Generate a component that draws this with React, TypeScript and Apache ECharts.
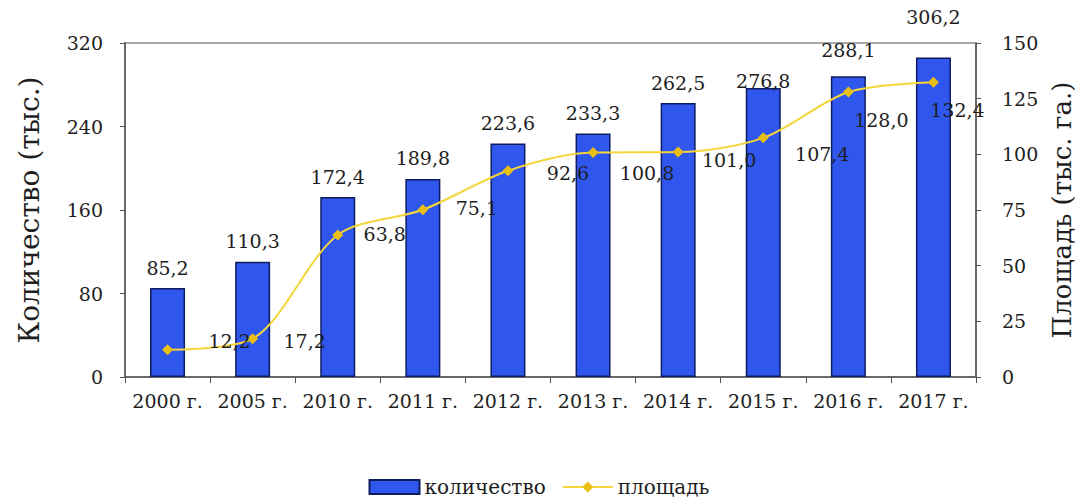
import React, { useEffect, useRef } from "react";
import * as echarts from "echarts";

// Years shown on the category axis
const years = ["2000", "2005", "2010", "2011", "2012", "2013", "2014", "2015", "2016", "2017"];
// Number of plantings, thousands (left axis, bars)
const quantity = [85.2, 110.3, 172.4, 189.8, 223.6, 233.3, 262.5, 276.8, 288.1, 306.2];
// Area, thousand hectares (right axis, line)
const area = [12.2, 17.2, 63.8, 75.1, 92.6, 100.8, 101.0, 107.4, 128.0, 132.4];

// Hand-placed label nudges (pixels) so value labels don't collide with marks
const barLabelDy = [0, 0, 0, 0, 0, 0, 0, 13, -6, -20];
const lineLabelOffset: [number, number][] = [
  [62, -9], [52, 2], [47, -1], [54, -2], [60, 2],
  [54, 20], [51, 8], [59, 16], [33, 28], [24, 28],
];

const FONT = "DejaVu Serif";
const fmt = (v: number) => v.toFixed(1).replace(".", ",");

export default function App() {
  const ref = useRef<HTMLDivElement>(null);

  useEffect(() => {
    document.body.style.margin = "0";
    if (!ref.current) return;
    const chart = echarts.init(ref.current, null, { renderer: "svg" });

    const textBase = { fontFamily: FONT, color: "#1e1e1e" };

    chart.setOption({
      animation: false,
      backgroundColor: "#ffffff",
      textStyle: { fontFamily: FONT },
      grid: {
        left: 125,
        right: 102,
        top: 43,
        bottom: 122,
        outerBoundsMode: "none",
        containLabel: false,
        show: true,
        borderColor: "#a8a8a8",
        borderWidth: 2,
        backgroundColor: "transparent",
      },
      legend: {
        bottom: -3,
        left: "center",
        itemWidth: 50,
        itemHeight: 14,
        itemGap: 16,
        textStyle: { ...textBase, fontSize: 20 },
        data: [
          { name: "количество", icon: "rect" },
          { name: "площадь" },
        ],
      },
      xAxis: {
        type: "category",
        data: years.map((y) => `${y} г.`),
        axisLine: { lineStyle: { color: "#555", width: 1.5 } },
        axisTick: { show: true, length: 6, lineStyle: { color: "#555" } },
        axisLabel: { ...textBase, fontSize: 19, margin: 14, interval: 0 },
      },
      yAxis: [
        {
          type: "value",
          min: 0,
          max: 320,
          interval: 80,
          name: "Количество (тыс.)",
          nameLocation: "middle",
          nameRotate: 90,
          nameGap: 82,
          nameTextStyle: { ...textBase, fontSize: 28 },
          axisLine: { show: true, lineStyle: { color: "#555", width: 1.5 } },
          axisTick: { show: true, length: 5, lineStyle: { color: "#555" } },
          axisLabel: { ...textBase, fontSize: 19, margin: 22 },
          splitLine: { show: false },
        },
        {
          type: "value",
          min: 0,
          max: 150,
          interval: 25,
          position: "right",
          name: "Площадь (тыс. га.)",
          nameLocation: "middle",
          nameRotate: 90,
          nameGap: 70,
          nameTextStyle: { ...textBase, fontSize: 26 },
          axisLine: { show: true, lineStyle: { color: "#555", width: 1.5 } },
          axisTick: { show: true, length: 5, lineStyle: { color: "#555" } },
          axisLabel: { ...textBase, fontSize: 19, margin: 26 },
          splitLine: { show: false },
        },
      ],
      series: [
        {
          name: "количество",
          type: "bar",
          yAxisIndex: 0,
          barWidth: 35,
          itemStyle: { color: "#2f57ee", borderColor: "#0e1c5e", borderWidth: 1.5 },
          data: quantity.map((v, i) => ({
            value: v,
            label: { offset: [0, barLabelDy[i]] },
          })),
          label: {
            show: true,
            position: "top",
            distance: 11,
            ...textBase,
            fontSize: 19,
            formatter: (p: any) => fmt(p.value),
          },
          z: 2,
        },
        {
          name: "площадь",
          type: "line",
          yAxisIndex: 1,
          smooth: 0.3,
          symbol: "diamond",
          symbolSize: 11,
          lineStyle: { color: "#f4d53a", width: 2 },
          itemStyle: { color: "#e9bf16" },
          data: area.map((v, i) => ({
            value: v,
            label: { offset: lineLabelOffset[i] },
          })),
          label: {
            show: true,
            position: "inside",
            ...textBase,
            fontSize: 19,
            formatter: (p: any) => fmt(p.value),
          },
          z: 3,
        },
      ],
    });

    return () => chart.dispose();
  }, []);

  return <div ref={ref} style={{ width: 1078, height: 499 }} />;
}
